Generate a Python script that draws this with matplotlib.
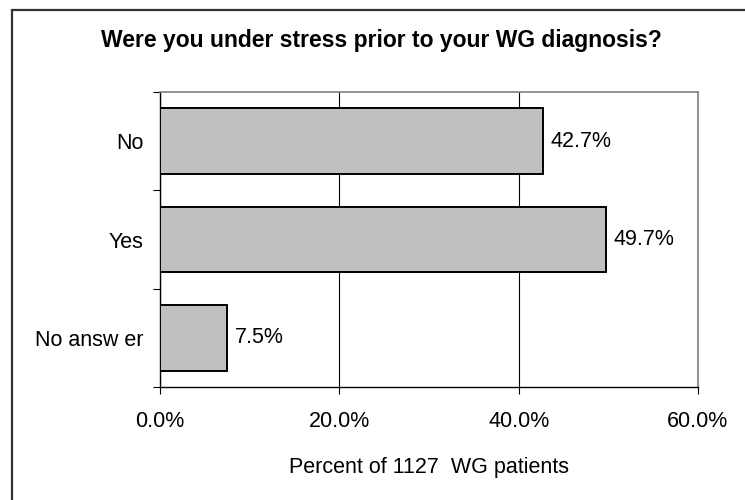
import numpy as np
import matplotlib.pyplot as plt
from matplotlib.patches import Rectangle
from matplotlib.ticker import FixedLocator, FuncFormatter

# ── DATA ──────────────────────────────────────────────────────────────────
categories = ["No", "Yes", "No answ er"]
percents = [42.7, 49.7, 7.5]
xticks = [0, 20, 40, 60]

title = "Were you under stress prior to your WG diagnosis?"
xlabel = "Percent of 1127  WG patients"

# ── STYLE ─────────────────────────────────────────────────────────────────
plt.rcParams.update({
    "font.family": ["Liberation Sans", "DejaVu Sans"],
    "font.size": 15.5,
    "text.color": "#000000",
})

fig = plt.figure(figsize=(7.45, 5.0), dpi=100)
W, H = 745, 500
ax = fig.add_axes([160 / W, 1 - 387 / H, (698 - 160) / W, (387 - 92) / H])

# outer frame, running off the right and bottom edges
fig.patches.append(Rectangle((12 / W, -0.05), 1.0, 1 - 10 / H + 0.05,
                             transform=fig.transFigure, fill=False,
                             edgecolor="#333333", linewidth=1.6))

y = np.arange(len(categories))
ax.barh(y, percents, height=0.67, color="#C0C0C0", edgecolor="#000000",
        linewidth=1.4, zorder=3)

for yi, v in zip(y, percents):
    ax.text(v + 0.9, yi, f"{v:.1f}%", ha="left", va="center",
            fontsize=15.5, zorder=4)

ax.set_xlim(0, 60)
ax.set_ylim(2.5, -0.5)

ax.xaxis.set_major_locator(FixedLocator(xticks))
ax.xaxis.set_major_formatter(FuncFormatter(lambda v, p: f"{v:.1f}%"))
ax.xaxis.grid(True, color="#000000", linewidth=0.8, zorder=0)

ax.set_yticks(y)
ax.set_yticklabels(categories)
ax.yaxis.set_minor_locator(FixedLocator([-0.5, 0.5, 1.5, 2.5]))
ax.tick_params(axis="y", which="major", length=0, pad=12)
ax.tick_params(axis="y", which="minor", length=5, width=0.8, color="#000000")
ax.tick_params(axis="x", length=5, width=0.8, pad=12, color="#000000")

for sp in ["top", "right"]:
    ax.spines[sp].set_color("#808080")
    ax.spines[sp].set_linewidth(1.2)
for sp in ["left", "bottom"]:
    ax.spines[sp].set_color("#000000")
    ax.spines[sp].set_linewidth(1.0)

ax.set_xlabel(xlabel, fontsize=15.5, labelpad=18)
fig.text(381 / W, 1 - 40 / H, title, ha="center", va="center",
         fontsize=16.5, fontweight="bold")

fig.savefig("out.png", dpi=100)
